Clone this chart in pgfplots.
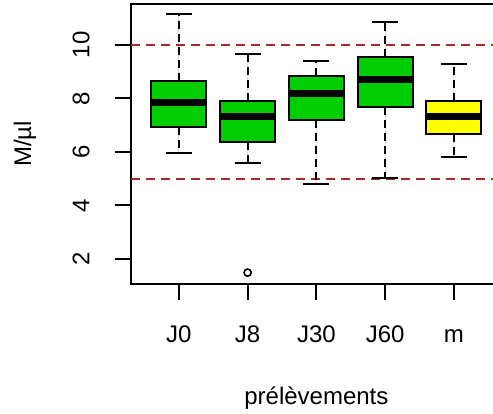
\documentclass[border=0pt]{standalone}
\usepackage{fontspec}
\setmainfont{Liberation Sans}
\usepackage{pgfplots}
\pgfplotsset{compat=1.18}
\usepgfplotslibrary{statistics}
\definecolor{rgreen}{RGB}{0,205,0}
\definecolor{ryellow}{RGB}{255,255,0}
\definecolor{rbrown}{RGB}{165,42,42}
\pgfplotsset{
  rbox/.style={
    boxplot/draw direction=y,
    draw=black, line width=1pt, solid,
    mark=o, mark size=1.8pt, mark options={black, line width=0.8pt, fill=none},
    boxplot/box extend=0.8,
    boxplot/whisker extend=0.38,
    boxplot/every median/.style={line width=3.5pt, black},
    boxplot/draw/lower whisker/.code={%
      \draw[black, line width=1pt, dash pattern=on 4pt off 2.5pt]
        (boxplot cs:\pgfplotsboxplotvalue{lower quartile}) --
        (boxplot cs:\pgfplotsboxplotvalue{lower whisker});
      \draw[black, line width=1pt, solid]
        (boxplot whisker cs:\pgfplotsboxplotvalue{lower whisker},0) --
        (boxplot whisker cs:\pgfplotsboxplotvalue{lower whisker},1);
    },
    boxplot/draw/upper whisker/.code={%
      \draw[black, line width=1pt, dash pattern=on 4pt off 2.5pt]
        (boxplot cs:\pgfplotsboxplotvalue{upper quartile}) --
        (boxplot cs:\pgfplotsboxplotvalue{upper whisker});
      \draw[black, line width=1pt, solid]
        (boxplot whisker cs:\pgfplotsboxplotvalue{upper whisker},0) --
        (boxplot whisker cs:\pgfplotsboxplotvalue{upper whisker},1);
    },
  },
}
\begin{document}
\begin{tikzpicture}
\useasboundingbox (0pt,0pt) rectangle (246.5pt,206.5pt);
\clip (0pt,0pt) rectangle (246.5pt,206.5pt);
\begin{axis}[
  at={(65.4pt,64.5pt)}, anchor=south west,
  scale only axis, width=185.6pt, height=140pt,
  xmin=0.3, xmax=5.7, ymin=1.065, ymax=11.53,
  xtick={1,2,3,4,5}, xticklabels={J0,J8,J30,J60,m},
  ytick={2,4,6,8,10},
  tick align=outside, tick pos=left,
  major tick length=8pt,
  axis line style={line width=1pt},
  every tick/.style={black, line width=1pt},
  font=\fontsize{12}{14}\selectfont,
  /pgf/number format/assume math mode=true,
  typeset ticklabels with strut,
  xticklabel shift=8pt,
  yticklabel shift=5pt,
  yticklabel style={rotate=90, anchor=south},
  xlabel={prélèvements}, ylabel={M/µl},
  every axis x label/.style={at={(axis description cs:0.5,-0.407)}, anchor=center},
  every axis y label/.style={at={(axis description cs:-0.285,0.5)}, anchor=center, rotate=90},
  clip=false,
]
\addplot[rbrown, line width=1pt, dash pattern=on 4.5pt off 3pt, forget plot] coordinates {(0.3,10) (5.7,10)};
\addplot[rbrown, line width=1pt, dash pattern=on 4.5pt off 3pt, forget plot] coordinates {(0.3,5) (5.7,5)};
\addplot[rbox, fill=rgreen, boxplot prepared={draw position=1, lower whisker=5.95, lower quartile=6.95, median=7.84, upper quartile=8.65, upper whisker=11.15}] coordinates {};
\addplot[rbox, fill=rgreen, boxplot prepared={draw position=2, lower whisker=5.60, lower quartile=6.39, median=7.33, upper quartile=7.92, upper whisker=9.65}] coordinates {(0,1.49)};
\addplot[rbox, fill=rgreen, boxplot prepared={draw position=3, lower whisker=4.82, lower quartile=7.19, median=8.19, upper quartile=8.84, upper whisker=9.41}] coordinates {};
\addplot[rbox, fill=rgreen, boxplot prepared={draw position=4, lower whisker=5.02, lower quartile=7.68, median=8.72, upper quartile=9.56, upper whisker=10.85}] coordinates {};
\addplot[rbox, fill=ryellow, boxplot prepared={draw position=5, lower whisker=5.82, lower quartile=6.67, median=7.33, upper quartile=7.92, upper whisker=9.28}] coordinates {};
\end{axis}
\end{tikzpicture}
\end{document}
